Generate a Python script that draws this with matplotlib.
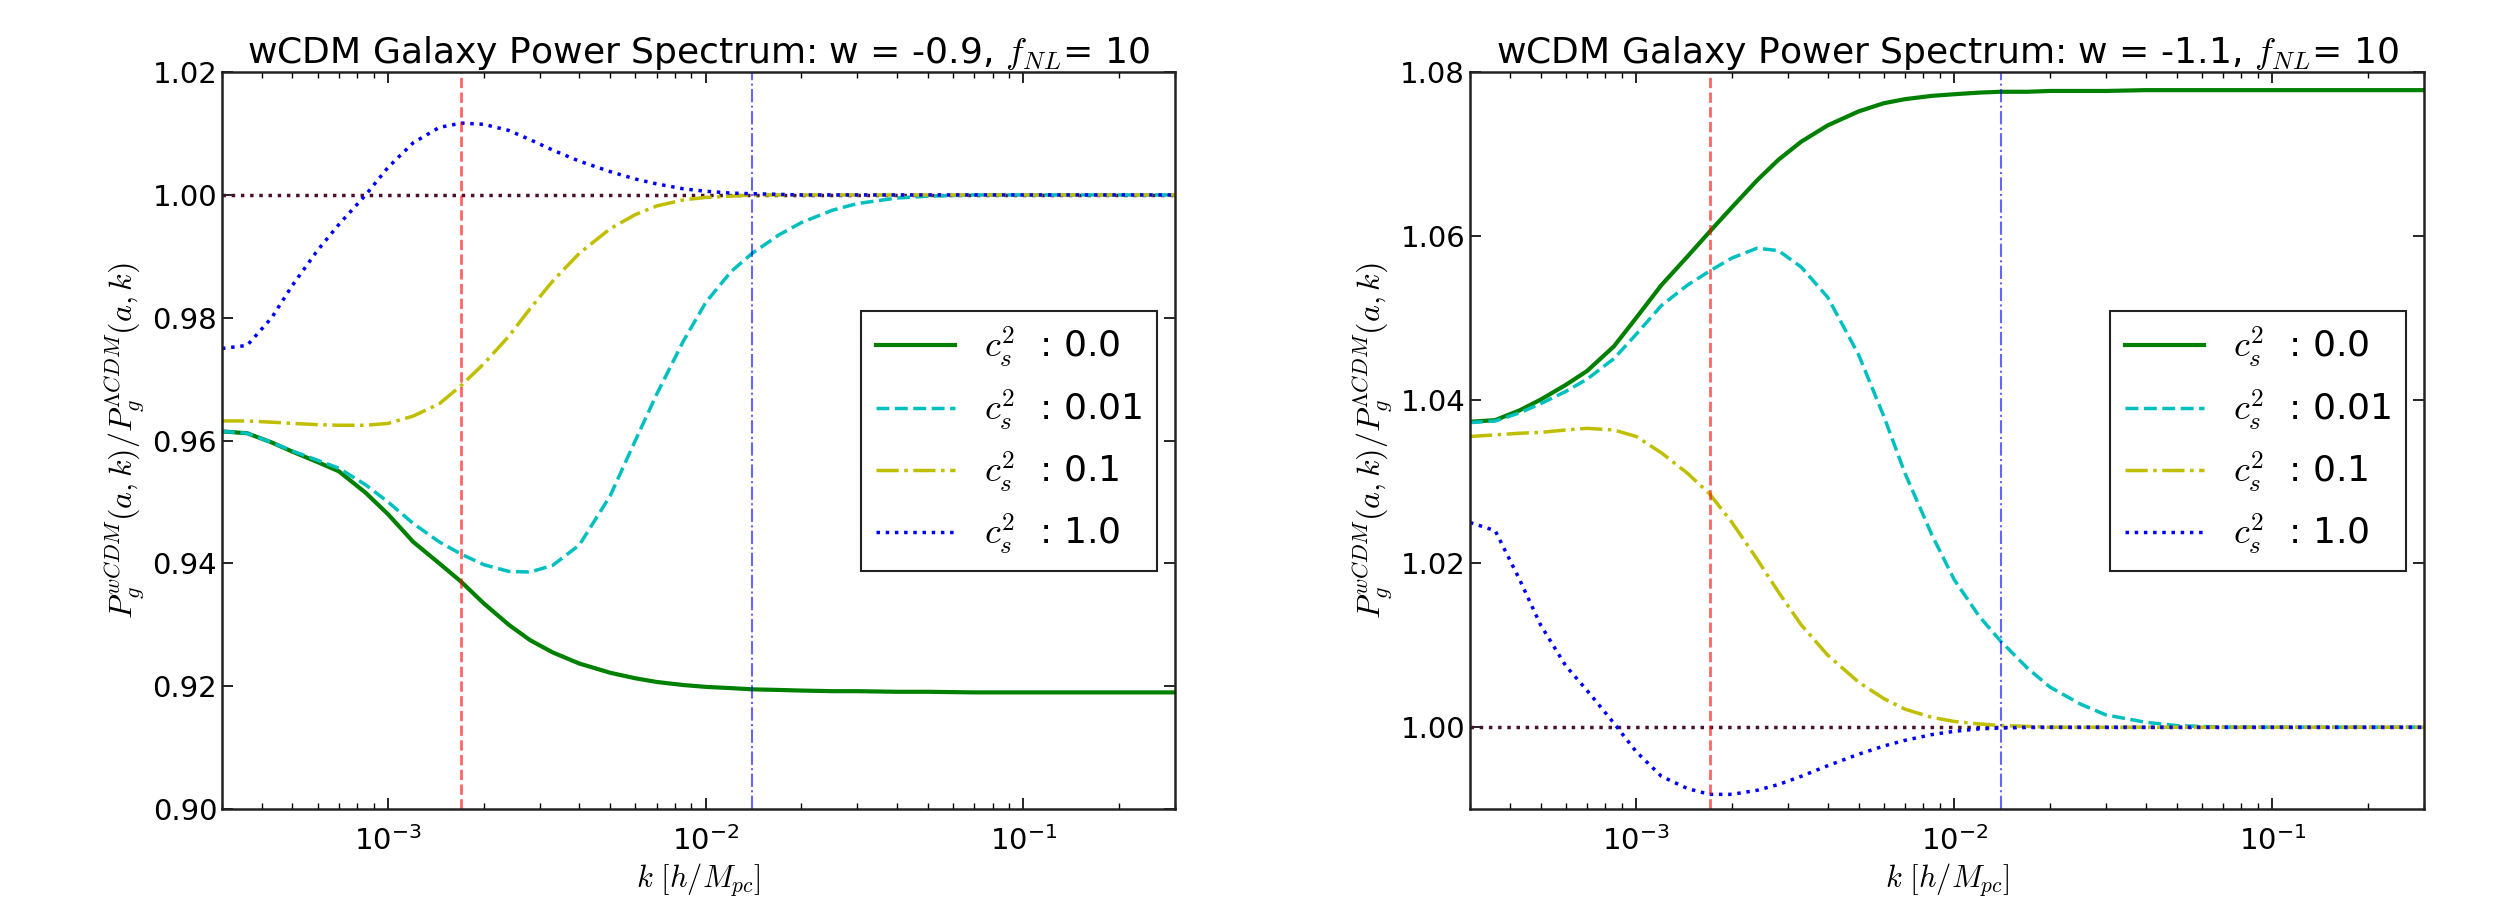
import numpy as np
import matplotlib
matplotlib.use('Agg')
import matplotlib.pyplot as plt

plt.rcParams['mathtext.fontset'] = 'cm'
plt.rcParams['font.family'] = ['DejaVu Sans']

# k grid [h/Mpc] shared by every curve
k = [3e-4, 3.6e-4, 4.3e-4, 5e-4, 6e-4, 7e-4, 8.5e-4, 1e-3, 1.2e-3, 1.45e-3, 1.7e-3,
     2e-3, 2.4e-3, 2.8e-3, 3.3e-3, 4e-3, 5e-3, 6e-3, 7e-3, 8.5e-3, 1e-2, 1.2e-2,
     1.4e-2, 1.7e-2, 2e-2, 2.5e-2, 3e-2, 4e-2, 5e-2, 7e-2, 1e-1, 3e-1]

labels = [r'$c_s^2$  : 0.0', r'$c_s^2$  : 0.01', r'$c_s^2$  : 0.1', r'$c_s^2$  : 1.0']

# w = -0.9
left_cs0 = [0.9615, 0.9612, 0.9597, 0.9582, 0.9565, 0.955, 0.9515, 0.948, 0.9435, 0.940, 0.937,
            0.9335, 0.930, 0.9275, 0.9255, 0.9237, 0.9222, 0.9213, 0.9207, 0.9202, 0.9199, 0.9197,
            0.9195, 0.9194, 0.9193, 0.9192, 0.9192, 0.9191, 0.9191, 0.919, 0.919, 0.919]
left_cs001 = [0.9615, 0.9612, 0.9597, 0.9583, 0.9568, 0.9555, 0.9528, 0.950, 0.9465, 0.9435, 0.9415,
              0.9398, 0.9387, 0.9386, 0.9397, 0.9430, 0.9510, 0.9600, 0.9675, 0.9762, 0.9825, 0.9875,
              0.9905, 0.9935, 0.9955, 0.9975, 0.9986, 0.9995, 0.9998, 1.0, 1.0, 1.0]
left_cs01 = [0.9632, 0.9632, 0.963, 0.9628, 0.9626, 0.9625, 0.9625, 0.9628, 0.964, 0.966, 0.969,
             0.9725, 0.977, 0.9815, 0.986, 0.9905, 0.9945, 0.9968, 0.9982, 0.9992, 0.9996, 0.9998,
             1.0, 1.0, 1.0, 1.0, 1.0, 1.0, 1.0, 1.0, 1.0, 1.0]
left_cs1 = [0.975, 0.9755, 0.980, 0.9853, 0.991, 0.9952, 1.000, 1.0045, 1.0085, 1.011, 1.0117,
            1.0115, 1.0105, 1.009, 1.0073, 1.0055, 1.0038, 1.0026, 1.0018, 1.001, 1.0006, 1.0003,
            1.0002, 1.0001, 1.0, 1.0, 1.0, 1.0, 1.0, 1.0, 1.0, 1.0]

# w = -1.1
right_cs0 = [1.0373, 1.0375, 1.0387, 1.040, 1.0418, 1.0435, 1.0465, 1.050, 1.054, 1.0575, 1.0605,
             1.0635, 1.0668, 1.0693, 1.0715, 1.0735, 1.0752, 1.0762, 1.0767, 1.0771, 1.0773, 1.0775,
             1.0776, 1.0776, 1.0777, 1.0777, 1.0777, 1.0778, 1.0778, 1.0778, 1.0778, 1.0778]
right_cs001 = [1.0372, 1.0374, 1.0384, 1.0395, 1.041, 1.0425, 1.045, 1.048, 1.0515, 1.054, 1.0557,
               1.0573, 1.0585, 1.0582, 1.0562, 1.0525, 1.0455, 1.038, 1.031, 1.0235, 1.018, 1.0135,
               1.0105, 1.0072, 1.0049, 1.0028, 1.0015, 1.0006, 1.0002, 1.0, 1.0, 1.0]
right_cs01 = [1.0355, 1.0357, 1.0359, 1.036, 1.0363, 1.0365, 1.0363, 1.0355, 1.0335, 1.031, 1.0285,
              1.025, 1.0205, 1.0165, 1.0125, 1.0088, 1.0055, 1.0035, 1.0022, 1.0012, 1.0007, 1.0004,
              1.0002, 1.0001, 1.0, 1.0, 1.0, 1.0, 1.0, 1.0, 1.0, 1.0]
right_cs1 = [1.025, 1.024, 1.018, 1.0125, 1.0075, 1.0045, 1.0005, 0.997, 0.994, 0.9925, 0.9918,
             0.9918, 0.9923, 0.993, 0.994, 0.9953, 0.9967, 0.9977, 0.9984, 0.9991, 0.9995, 0.9998,
             0.9999, 1.0, 1.0, 1.0, 1.0, 1.0, 1.0, 1.0, 1.0, 1.0]

k_red = 1.7e-3
k_blue = 0.014

styles = [dict(color='g', ls='-', lw=3),
          dict(color='c', ls='--', lw=2.5),
          dict(color='y', ls='-.', lw=2.5),
          dict(color='b', ls=':', lw=2.5)]

panels = [('-0.9', [left_cs0, left_cs001, left_cs01, left_cs1], (0.90, 1.02), 0.90),
          ('-1.1', [right_cs0, right_cs001, right_cs01, right_cs1], (0.99, 1.08), 1.00)]

fig = plt.figure(figsize=(25, 8.97), dpi=100)
ax_pos = [[0.0888, 0.098, 0.3812, 0.8216], [0.588, 0.098, 0.3816, 0.8216]]

for pos, (w, curves, ylim, ystart) in zip(ax_pos, panels):
    ax = fig.add_axes(pos)
    ax.axhline(1.0, color='#4a1030', ls=':', lw=2.5)
    for y, st, lab in zip(curves, styles, labels):
        ax.plot(k, y, label=lab, **st)
    ax.axvline(k_red, color='r', ls='--', lw=2, alpha=0.6)
    ax.axvline(k_blue, color='b', ls='-.', lw=1.5, alpha=0.6)
    ax.set_xscale('log')
    ax.set_xlim(3e-4, 0.3)
    ax.set_ylim(*ylim)
    ax.set_yticks(np.arange(ystart, ylim[1] + 0.001, 0.02))
    ax.yaxis.set_major_formatter(matplotlib.ticker.FormatStrFormatter('%.2f'))
    ax.tick_params(which='both', direction='in', top=True, right=True, labelsize=21)
    ax.tick_params(which='major', length=8, width=1.2)
    ax.tick_params(which='minor', length=4, width=1)
    ax.tick_params(axis='x', pad=12)
    for s in ax.spines.values():
        s.set_linewidth(1.8)
        s.set_color('#222222')
    ax.set_title('wCDM Galaxy Power Spectrum: w = ' + w + r', $f_{NL}$= 10', fontsize=26)
    ax.set_xlabel(r'$k\ [h/M_{pc}]$', fontsize=22)
    ax.set_ylabel(r'$P_g^{wCDM}(a,k)/P_g^{\Lambda CDM}(a,k)$', fontsize=23)
    leg = ax.legend(loc='center right', fontsize=26, fancybox=False, framealpha=1,
                    edgecolor='#222222', handlelength=2.2)
    leg.get_frame().set_linewidth(1.5)

fig.savefig('out.png', dpi=100)
